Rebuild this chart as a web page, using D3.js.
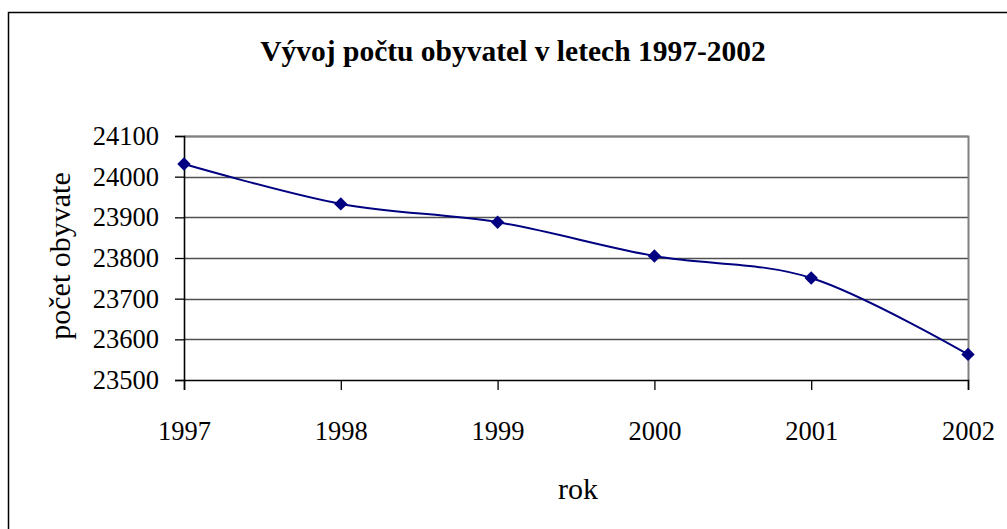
<!DOCTYPE html>
<html>
<head>
<meta charset="utf-8">
<script src="https://cdn.jsdelivr.net/npm/d3@7"></script>
<style>
  body { margin: 0; background: #fff; }
  text { font-family: "Liberation Serif", "DejaVu Serif", serif; fill: #000; }
</style>
</head>
<body>
<svg id="chart" width="1007" height="529"></svg>
<script>
// data
var years = ["1997", "1998", "1999", "2000", "2001", "2002"];
var population = [24031, 23933, 23888, 23805, 23751, 23563];
var yTicks = [23500, 23600, 23700, 23800, 23900, 24000, 24100];

var chartTitle = "Vývoj počtu obyvatel v letech 1997-2002";
var xTitle = "rok";
var yTitle = "počet obyvate";

var svg = d3.select("#chart");

var plot = { left: 184, right: 968, top: 136, bottom: 380 };

var x = d3.scalePoint().domain(years).range([plot.left, plot.right]);
var y = d3.scaleLinear().domain([23500, 24100]).range([plot.bottom, plot.top]);

var data = years.map(function (d, i) {
    return { year: d, value: population[i] };
});

//outer chart frame, runs off the right and bottom of the page
svg.append("rect")
    .attr("x", 8.5).attr("y", 12.5)
    .attr("width", 1020).attr("height", 540)
    .attr("fill", "none")
    .attr("stroke", "#000")
    .attr("stroke-width", 1.5);

//title
svg.append("text")
    .attr("x", 513).attr("y", 61)
    .attr("text-anchor", "middle")
    .style("font-size", "29.5px")
    .style("font-weight", "bold")
    .text(chartTitle);

//gridlines
svg.append("g")
    .selectAll("line")
    .data(yTicks.slice(1))
    .enter().append("line")
    .attr("x1", plot.left).attr("x2", plot.right)
    .attr("y1", function (d) { return Math.round(y(d)) + 0.5; })
    .attr("y2", function (d) { return Math.round(y(d)) + 0.5; })
    .attr("stroke", "#505050")
    .attr("stroke-width", 1.3);

//plot area border (top and right are grey)
svg.append("path")
    .attr("d", "M" + plot.left + "," + (plot.top + 0.5) + "H" + (plot.right + 0.5) + "V" + plot.bottom)
    .attr("fill", "none")
    .attr("stroke", "#808080")
    .attr("stroke-width", 2);

//y axis
var yAxis = svg.append("g")
    .attr("transform", "translate(" + plot.left + ",0)")
    .call(d3.axisLeft(y).tickValues(yTicks).tickSize(9).tickPadding(16).tickFormat(d3.format("d")));

//x axis
var xAxis = svg.append("g")
    .attr("transform", "translate(0," + plot.bottom + ")")
    .call(d3.axisBottom(x).tickSize(10).tickPadding(10));

[yAxis, xAxis].forEach(function (ax) {
    ax.attr("font-family", null);
    ax.select(".domain").attr("stroke", "#000").attr("stroke-width", 1.6);
    ax.selectAll(".tick line").attr("stroke", "#000").attr("stroke-width", 1.3);
    ax.selectAll("text")
        .attr("fill", "#000")
        .style("font-size", "26.5px")
        .style("font-family", "'Liberation Serif', serif");
});

xAxis.selectAll("text").attr("y", 60).attr("dy", 0);

//axis titles
svg.append("text")
    .attr("x", 578).attr("y", 499)
    .attr("text-anchor", "middle")
    .style("font-size", "30px")
    .text(xTitle);

svg.append("text")
    .attr("transform", "translate(70,256) rotate(-90)")
    .attr("text-anchor", "middle")
    .style("font-size", "30px")
    .text(yTitle);

//smoothed line like the Excel one
var line = d3.line()
    .x(function (d) { return x(d.year); })
    .y(function (d) { return y(d.value); })
    .curve(d3.curveCardinal.tension(0));

svg.append("path")
    .datum(data)
    .attr("d", line)
    .attr("fill", "none")
    .attr("stroke", "#000080")
    .attr("stroke-width", 2);

//diamond markers
svg.append("g")
    .selectAll("path")
    .data(data)
    .enter().append("path")
    .attr("d", d3.symbol().type(d3.symbolSquare).size(90))
    .attr("transform", function (d) {
        return "translate(" + x(d.year) + "," + y(d.value) + ") rotate(45)";
    })
    .attr("fill", "#000080");
</script>
</body>
</html>
